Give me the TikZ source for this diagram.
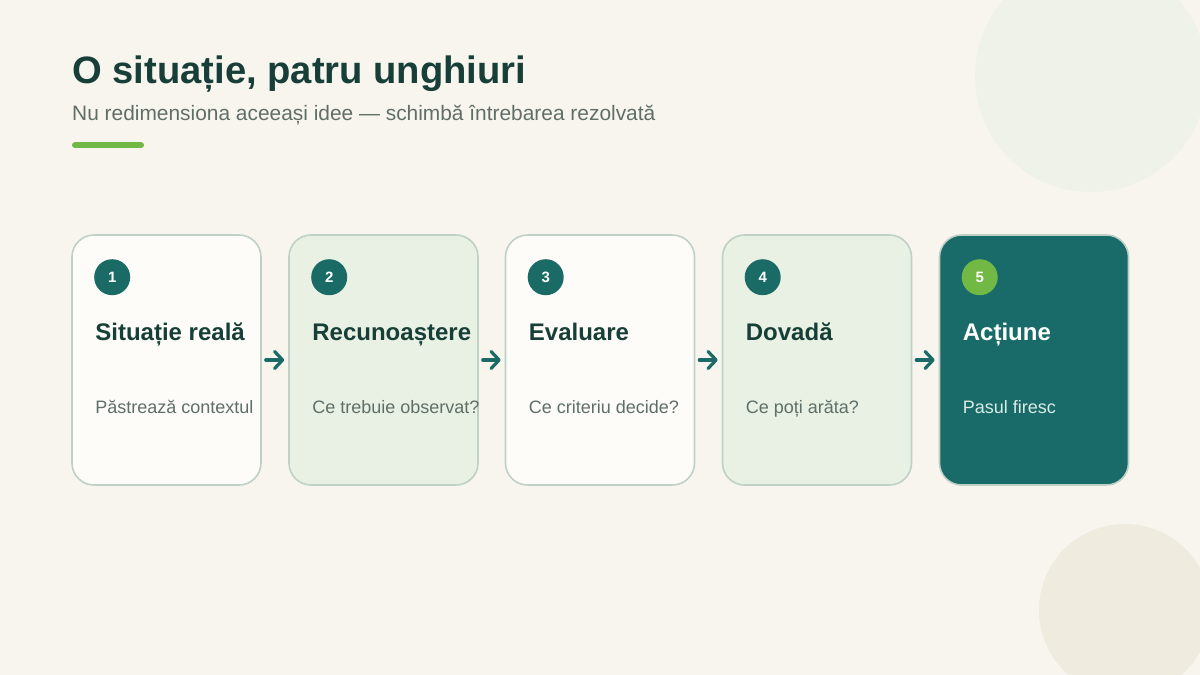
\documentclass[tikz,border=0pt]{standalone}
\usepackage{fontspec}
\setmainfont{Liberation Sans}
\usetikzlibrary{arrows.meta}
\definecolor{bg}{HTML}{F8F5EE}
\definecolor{circA}{HTML}{EFF2E8}
\definecolor{circB}{HTML}{EFEBDF}
\definecolor{darkt}{HTML}{173F38}
\definecolor{grayt}{HTML}{5F6F68}
\definecolor{lime}{HTML}{72B844}
\definecolor{teal}{HTML}{1A6B66}
\definecolor{tealcard}{HTML}{186B68}
\definecolor{cardw}{HTML}{FDFCF8}
\definecolor{cardg}{HTML}{E8F1E3}
\definecolor{cardb}{HTML}{BFD0C6}
\definecolor{lightd}{HTML}{DCEBE6}
\tikzset{
  card/.style={draw=cardb, line width=1.6pt, rounded corners=22pt, minimum width=189pt, minimum height=250pt, inner sep=0pt},
  badge/.style={circle, minimum size=36pt, inner sep=0pt, fill=teal, text=white, font=\bfseries\fontsize{15}{15}\selectfont},
  ctitle/.style={anchor=base west, inner sep=0pt, text=darkt, font=\bfseries\fontsize{24}{24}\selectfont},
  cdesc/.style={anchor=base west, inner sep=0pt, text=grayt, font=\fontsize{18}{18}\selectfont},
  flow/.style={draw=teal, line width=3.2pt, line cap=round, -{Straight Barb[length=8pt,width=17pt,line cap=round,line join=round]}, shorten <=4pt, shorten >=4pt}
}
\begin{document}
\begin{tikzpicture}[x=1pt,y=-1pt]
\useasboundingbox (0,0) rectangle (1200,675);
\fill[bg] (0,0) rectangle (1200,675);
\begin{scope}
\clip (0,0) rectangle (1200,675);
\fill[circA] (1091,76) circle (116);
\fill[circB] (1125,610) circle (86);
\end{scope}
% header
\node[anchor=base west, inner sep=0pt, text=darkt, font=\bfseries\fontsize{38.2}{38}\selectfont] (head) at (72,83) {O situație, patru unghiuri};
\node[anchor=base west, inner sep=0pt, text=grayt, font=\fontsize{20.9}{21}\selectfont] (sub) at (72,120) {Nu redimensiona aceeași idee — schimbă întrebarea rezolvată};
\draw[lime, line width=6pt, line cap=round] (75,145) -- (141,145);
% cards
\foreach \i/\x/\f/\t/\d in {1/166.5/cardw/Situație reală/Păstrează contextul,
                          2/383.5/cardg/Recunoaștere/Ce trebuie observat?,
                          3/600/cardw/Evaluare/Ce criteriu decide?,
                          4/817/cardg/Dovadă/Ce poți arăta?}{
  \node[card, fill=\f] (card\i) at (\x,360) {};
  \node[badge] (badge\i) at ([xshift=41pt,yshift=-43pt]card\i.north west) {\i};
  \node[ctitle] (title\i) at ([xshift=24pt]card\i.west |- 0,340) {\t};
  \node[cdesc] (desc\i) at ([xshift=24pt]card\i.west |- 0,413) {\d};
}
\node[card, fill=tealcard] (card5) at (1034,360) {};
\node[badge, fill=lime] (badge5) at ([xshift=41pt,yshift=-43pt]card5.north west) {5};
\node[ctitle, text=white] (title5) at ([xshift=24pt]card5.west |- 0,340) {Acțiune};
\node[cdesc, text=lightd] (desc5) at ([xshift=24pt]card5.west |- 0,413) {Pasul firesc};
% arrows
\foreach \a/\b in {1/2,2/3,3/4,4/5}{
  \draw[flow] (card\a.east) -- (card\b.west);
}
\end{tikzpicture}
\end{document}
